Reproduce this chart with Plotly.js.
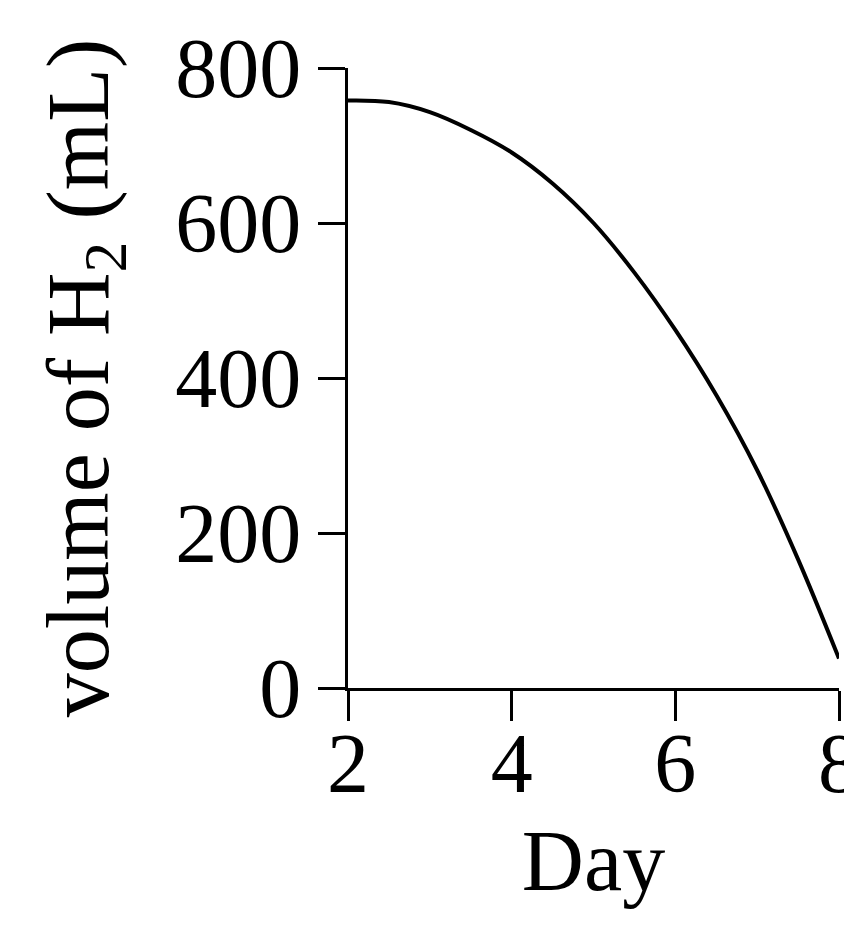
<!DOCTYPE html>
<html>
<head>
<meta charset="utf-8">
<script src="https://cdn.plot.ly/plotly-3.0.1.min.js"></script>
<style>
html,body{margin:0;padding:0;background:#fff;overflow:hidden;}
#chart{width:844px;height:926px;}
</style>
</head>
<body>
<div id="chart"></div>
<script>
const days = [2, 2.5, 3, 3.5, 4, 4.5, 5, 5.5, 6, 6.5, 7, 7.5, 8];
const volumeH2 = [758, 756, 743, 720, 691, 651, 600, 536, 462, 378, 281, 166, 38];
const xTicks = [2, 4, 6, 8];
const yTicks = [0, 200, 400, 600, 800];
const xTitle = 'Day';
const yTitle = 'volume of H<sub>2</sub> (mL)';

const fontFam = '"Liberation Serif", "Times New Roman", serif';

Plotly.newPlot('chart', [{
  x: days,
  y: volumeH2,
  type: 'scatter',
  mode: 'lines',
  line: {color: '#000', width: 4, shape: 'spline', smoothing: 1},
  hoverinfo: 'skip'
}], {
  width: 844,
  height: 926,
  margin: {l: 348, r: 5, t: 68, b: 238},
  paper_bgcolor: '#fff',
  plot_bgcolor: '#fff',
  showlegend: false,
  font: {family: fontFam, color: '#000'},
  xaxis: {
    range: [2, 8],
    tickvals: xTicks,
    ticktext: xTicks.map(String),
    showgrid: false,
    zeroline: false,
    showline: true,
    linecolor: '#000',
    linewidth: 3,
    ticks: 'outside',
    ticklen: 30,
    tickwidth: 3,
    tickcolor: '#000',
    ticklabeloverflow: 'allow',
    ticklabelstandoff: -30,
    tickfont: {family: fontFam, size: 84, color: '#000'},
    title: {text: xTitle, font: {family: fontFam, size: 86, color: '#000'}, standoff: 22}
  },
  yaxis: {
    range: [0, 800],
    tickvals: yTicks,
    ticktext: yTicks.map(String),
    showgrid: false,
    zeroline: false,
    showline: true,
    linecolor: '#000',
    linewidth: 3,
    ticks: 'outside',
    ticklen: 27,
    tickwidth: 3,
    tickcolor: '#000',
    tickfont: {family: fontFam, size: 84, color: '#000'},
    title: {text: yTitle, font: {family: fontFam, size: 88, color: '#000'}, standoff: 38}
  }
}, {staticPlot: true, displayModeBar: false});
</script>
</body>
</html>
